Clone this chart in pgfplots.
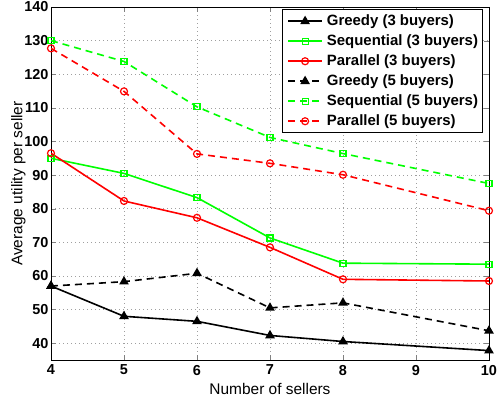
\documentclass[border=0pt]{standalone}
\usepackage{pgfplots}
\pgfplotsset{compat=1.18}
\usepackage{fontspec}
\setmainfont{Liberation Sans}
\begin{document}
\begin{tikzpicture}
\begin{axis}[
  at={(0,0)}, anchor=south west,
  scale only axis,
  width=438bp, height=353bp,
  xmin=4, xmax=10, ymin=35, ymax=140,
  xtick={4,5,6,7,8,9,10},
  ytick={40,50,...,140},
  /pgf/number format/assume math mode=true,
  tick label style={font=\bfseries\fontsize{14.5}{16}\selectfont},
  xticklabel style={yshift=-1.5bp},
  yticklabel style={xshift=1bp},
  label style={font=\fontsize{15.5}{17}\selectfont},
  xlabel={Number of sellers},
  ylabel={Average utility per seller},
  xlabel style={yshift=-1bp},
  ylabel style={yshift=-8bp},
  grid=major,
  major grid style={dash pattern=on 1bp off 3bp, gray!75, line width=0.6bp},
  tick align=inside,
  major tick length=5bp,
  axis line style={line width=0.9bp},
  legend cell align=left,
  legend style={at={(0.9863,0.9935)}, anchor=north east,
    font=\bfseries\fontsize{15}{17}\selectfont,
    draw=black, line width=0.9bp, inner sep=4.5bp,
    row sep=6bp, column sep=4bp,
    nodes={inner sep=0pt, text height=11bp, text depth=3bp}},
  legend image code/.code={
    \draw[mark repeat=2,mark phase=2] plot coordinates {(0bp,0bp) (17bp,0bp) (34bp,0bp)};
  },
  every axis plot/.append style={line width=1.6bp},
]
\addplot[black, mark=triangle*, mark options={solid, fill=black, mark size=4bp}] coordinates {(4,57) (5,48) (6,46.5) (7,42.3) (8,40.5) (10,37.8)};
\addlegendentry{Greedy (3 buyers)}
\addplot[green, mark=square, mark options={solid, line width=1.2bp, mark size=3bp}] coordinates {(4,95) (5,90.5) (6,83.3) (7,71.3) (8,63.8) (10,63.5)};
\addlegendentry{Sequential (3 buyers)}
\addplot[red, mark=o, mark options={solid, line width=1.2bp, mark size=3.5bp}] coordinates {(4,96.5) (5,82.3) (6,77.3) (7,68.5) (8,59) (10,58.5)};
\addlegendentry{Parallel (3 buyers)}
\addplot[black, dash pattern=on 7bp off 5bp, mark=triangle*, mark options={solid, fill=black, mark size=4bp}] coordinates {(4,57) (5,58.3) (6,60.8) (7,50.5) (8,52) (10,43.7)};
\addlegendentry{Greedy (5 buyers)}
\addplot[green, dash pattern=on 7bp off 5bp, mark=square, mark options={solid, line width=1.2bp, mark size=3bp}] coordinates {(4,130) (5,123.8) (6,110.3) (7,101.2) (8,96.4) (10,87.5)};
\addlegendentry{Sequential (5 buyers)}
\addplot[red, dash pattern=on 7bp off 5bp, mark=o, mark options={solid, line width=1.2bp, mark size=3.5bp}] coordinates {(4,127.7) (5,114.9) (6,96.3) (7,93.5) (8,90.1) (10,79.4)};
\addlegendentry{Parallel (5 buyers)}
\end{axis}
\pgfresetboundingbox
\path[use as bounding box] (-51bp,-44bp) rectangle (447bp,360bp);
\end{tikzpicture}
\end{document}
